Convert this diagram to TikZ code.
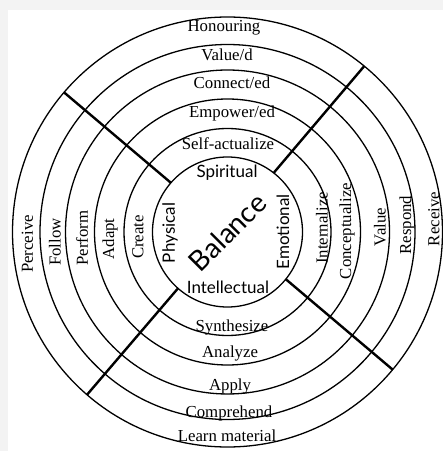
\documentclass[tikz,border=0pt]{standalone}
\usepackage{fontspec}
\setmainfont{Liberation Serif}
\newfontfamily\sansf{Lato}
\definecolor{bggray}{HTML}{F3F3F3}
\tikzset{
  ring/.style={line width=1.3pt},
  divider/.style={line width=2.4pt},
  lab/.style={font=\fontsize{16.8}{18}\selectfont, inner sep=0pt},
  vlab/.style={lab, rotate=90},
  core/.style={font=\sansf\fontsize{17}{19}\selectfont, inner sep=0pt},
  vcore/.style={core, rotate=90},
  big/.style={font=\sansf\fontsize{28}{30}\selectfont, inner sep=0pt, rotate=45}
}
\begin{document}
\begin{tikzpicture}[x=1pt,y=1pt]
\useasboundingbox (0,0) rectangle (443,451);
\fill[bggray] (0,0) rectangle (443,451);
\fill[white] (8,0) rectangle (443,441);
\coordinate (C) at (227.5,219);
% rings
\foreach \r in {75,103.5,133,162,187.5,215}
  \draw[ring] (C) circle[radius=\r];
% dividers
\coordinate (ne1) at ([shift={(52:75)}]C);
\coordinate (ne2) at ([shift={(50.5:215)}]C);
\coordinate (nw1) at ([shift={(139:75)}]C);
\coordinate (nw2) at ([shift={(139.5:215)}]C);
\coordinate (sw1) at ([shift={(228.7:75)}]C);
\coordinate (sw2) at ([shift={(229.2:215)}]C);
\coordinate (se1) at ([shift={(-39:75)}]C);
\coordinate (se2) at ([shift={(-39.8:215)}]C);
\draw[divider] (ne1) -- (ne2);
\draw[divider] (nw1) -- (nw2);
\draw[divider] (sw1) -- (sw2);
\draw[divider] (se1) -- (se2);
% top labels
\node[lab] (honouring) at (224,423) {Honouring};
\node[lab] (valued) at (227,396) {Value/d};
\node[lab] (connected) at (232,368) {Connect/ed};
\node[lab] (empowered) at (232,338) {Empower/ed};
\node[lab] (selfact) at (228,307) {Self-actualize};
% bottom labels
\node[lab] (synth) at (232,124) {Synthesize};
\node[lab] (analyze) at (230,98) {Analyze};
\node[lab] (apply) at (230,65) {Apply};
\node[lab] (compr) at (229,38) {Comprehend};
\node[lab] (learn) at (227,15) {Learn material};
% left labels
\node[vlab] (perceive) at (27.5,207) {Perceive};
\node[vlab] (follow) at (55,209) {Follow};
\node[vlab] (perform) at (82,213) {Perform};
\node[vlab] (adapt) at (110,212) {Adapt};
\node[vlab] (create) at (138,214) {Create};
% right labels
\node[vlab] (internalize) at (322,223) {Internalize};
\node[vlab] (concept) at (347,220) {Conceptualize};
\node[vlab] (value) at (380,224) {Value};
\node[vlab] (respond) at (407,226) {Respond};
\node[vlab] (receive) at (434,232) {Receive};
% core
\node[core] (spiritual) at (227,278) {Spiritual};
\node[core] (intellectual) at (228,164) {Intellectual};
\node[vcore] (physical) at (170,218) {Physical};
\node[vcore] (emotional) at (283,219) {Emotional};
\node[big] (balance) at (227.5,219) {Balance};
\end{tikzpicture}
\end{document}
